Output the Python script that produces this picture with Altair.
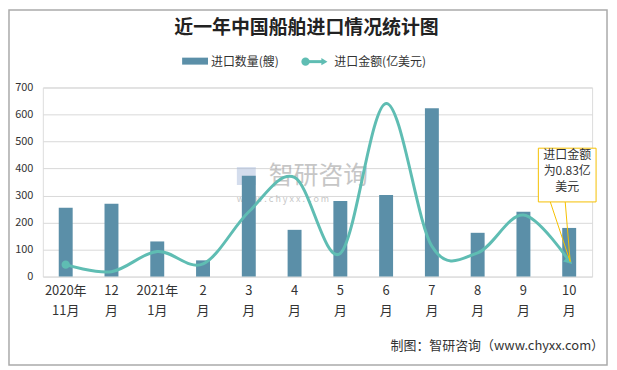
import altair as alt
import pandas as pd

months = ["2020年\n11月", "12\n月", "2021年\n1月", "2\n月", "3\n月", "4\n月",
          "5\n月", "6\n月", "7\n月", "8\n月", "9\n月", "10\n月"]
ship_count = [255, 270, 130, 60, 373, 173, 280, 302, 623, 162, 240, 180]
import_amount = [44, 18, 93, 47, 240, 367, 86, 641, 112, 88, 228, 57]
y_ticks = [0, 100, 200, 300, 400, 500, 600, 700]

df = pd.DataFrame({"month": months, "count": ship_count, "amount": import_amount})

FONT = "Noto Sans CJK SC"
BAR_C = "#5b8fa8"
LINE_C = "#5fbdb3"

x_axis = alt.Axis(labelExpr="split(datum.label, '\\n')", labelAngle=0,
                  labelFont=FONT, labelFontSize=13, labelColor="#333",
                  labelLineHeight=20, labelPadding=8, ticks=False,
                  domain=False, grid=False)
y_axis = alt.Axis(values=y_ticks, labelFont=FONT, labelFontSize=11,
                  labelColor="#333", labelPadding=10, ticks=False,
                  labelOverlap=False, labelFlush=False,
                  domain=False, gridColor="#d9d9d9")
x_scale = alt.Scale(paddingInner=0.0, paddingOuter=0.0)
y_scale = alt.Scale(domain=[0, 700], nice=False)

def X():
    return alt.X("month:N", sort=months, title=None, scale=x_scale, axis=x_axis)

def Y(field):
    return alt.Y(field, scale=y_scale, title=None, axis=y_axis)

bars = alt.Chart(df).mark_bar(color=BAR_C, size=14).encode(x=X(), y=Y("count:Q"))

line = alt.Chart(df).mark_line(color=LINE_C, strokeWidth=3, interpolate="cardinal").encode(
    x=X(), y=Y("amount:Q"))

first_pt = alt.Chart(df.head(1)).mark_point(filled=True, color=LINE_C, size=70, opacity=1).encode(
    x=X(), y=Y("amount:Q"))
last_pt = alt.Chart(df.tail(1)).mark_point(filled=True, color=LINE_C, size=90, opacity=1,
                                           shape="triangle-right", angle=45).encode(
    x=X(), y=Y("amount:Q"))

# decorations (pixel positions relative to plot area)
def vtext(txt, x, y, size, **kw):
    return alt.Chart(pd.DataFrame({"t": [txt]})).mark_text(font=FONT, fontSize=size, **kw).encode(
        x=alt.value(x), y=alt.value(y), text="t:N")

border = alt.Chart(pd.DataFrame({"a": [0]})).mark_rect(fill=None, stroke="#aaaaaa", strokeWidth=1.5).encode(
    x=alt.value(-34), x2=alt.value(567), y=alt.value(-78), y2=alt.value(279))

title = vtext("近一年中国船舶进口情况统计图", 265, -60, 19, fontWeight="bold", color="#222", align="center", baseline="middle")

leg_bar = alt.Chart(pd.DataFrame({"a": [0]})).mark_rect(color=BAR_C).encode(
    x=alt.value(140), x2=alt.value(166), y=alt.value(-30), y2=alt.value(-23))
leg_t1 = vtext("进口数量(艘)", 169, -26, 12, color="#333", align="left", baseline="middle")
leg_line = alt.Chart(pd.DataFrame({"a": [0]})).mark_rule(color=LINE_C, strokeWidth=3).encode(
    x=alt.value(262), x2=alt.value(281), y=alt.value(-26))
leg_c = alt.Chart(pd.DataFrame({"a": [0]})).mark_point(filled=True, color=LINE_C, size=70, opacity=1).encode(
    x=alt.value(264), y=alt.value(-26))
leg_a = alt.Chart(pd.DataFrame({"a": [0]})).mark_point(filled=True, color=LINE_C, size=50, opacity=1,
                                                         shape="triangle-right").encode(
    x=alt.value(283), y=alt.value(-26))
leg_t2 = vtext("进口金额(亿美元)", 293, -26, 12, color="#333", align="left", baseline="middle")

footer = vtext("制图：智研咨询（www.chyxx.com）", 564, 260, 13, color="#333", align="right", baseline="middle")

wm_logo = alt.Chart(pd.DataFrame({"a": [0]})).mark_rect(color="#9fb3d6", opacity=0.45).encode(
    x=alt.value(195), x2=alt.value(214), y=alt.value(80), y2=alt.value(98))
wm_text = vtext("智研咨询", 227, 89, 25, color="#999", opacity=0.55, align="left", baseline="middle")
wm_url = vtext("w w w . c h y x x . c o m", 195, 112, 9, color="#999", opacity=0.55, align="left", baseline="middle")

ann_poly = alt.Chart(pd.DataFrame({"a": [0]})).mark_rule(color="#f5c000", strokeWidth=1).encode(
    x=alt.value(510), y=alt.value(115), x2=alt.value(530), y2=alt.value(175))
ann_poly2 = alt.Chart(pd.DataFrame({"a": [0]})).mark_rule(color="#f5c000", strokeWidth=1).encode(
    x=alt.value(525), y=alt.value(115), x2=alt.value(530), y2=alt.value(175))
ann_box = alt.Chart(pd.DataFrame({"a": [0]})).mark_rect(fill="white", stroke="#f5c000", strokeWidth=1).encode(
    x=alt.value(498), x2=alt.value(556), y=alt.value(61), y2=alt.value(115))
ann_txt = alt.Chart(pd.DataFrame({"t": ["进口金额\n为0.83亿\n美元"]})).mark_text(
    font=FONT, fontSize=12, color="#333", align="center", baseline="top",
    lineBreak="\n", lineHeight=16).encode(x=alt.value(527), y=alt.value(63), text="t:N")

chart = alt.layer(
    border, wm_logo, wm_text, wm_url, bars, line, first_pt, last_pt,
    ann_poly, ann_poly2, ann_box, ann_txt,
    title, leg_bar, leg_t1, leg_line, leg_c, leg_a, leg_t2, footer,
).properties(
    width=552, height=190,
    autosize=alt.AutoSizeParams(type="none"),
    padding={"left": 35, "top": 79, "right": 17, "bottom": 91},
).configure_view(stroke=None).configure(background="white")

chart.save("out.html", embed_options={"renderer": "svg", "actions": False})
